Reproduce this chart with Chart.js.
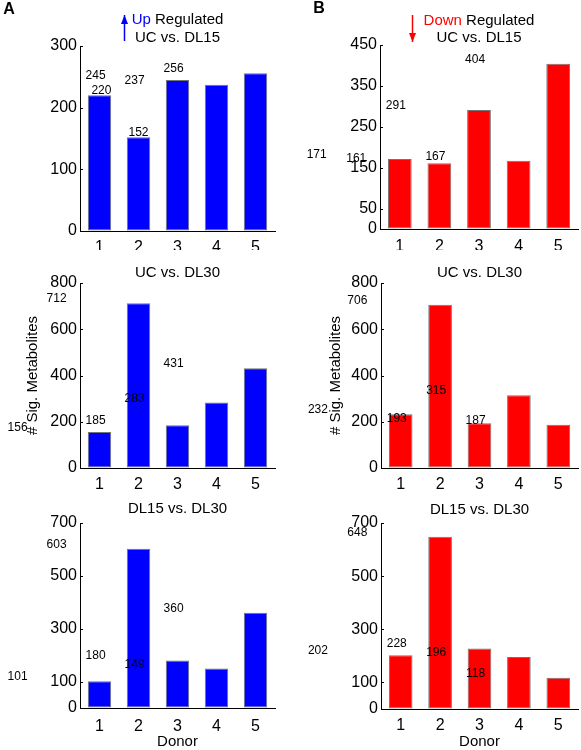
<!DOCTYPE html>
<html>
<head>
<meta charset="utf-8">
<script src="https://cdn.jsdelivr.net/npm/chart.js@4.4.0/dist/chart.umd.min.js"></script>
<style>
  html, body { margin: 0; padding: 0; background: #ffffff; }
  #wrap { position: relative; width: 581px; height: 750px; overflow: hidden; background: #fff; }
  #wrap canvas { position: absolute; }
</style>
</head>
<body>
<div id="wrap">
  <canvas id="a1" width="290" height="250" style="left:0px;top:0px"></canvas>
  <canvas id="b1" width="291" height="250" style="left:290px;top:0px"></canvas>
  <canvas id="a2" width="290" height="250" style="left:0px;top:250px"></canvas>
  <canvas id="b2" width="291" height="250" style="left:290px;top:250px"></canvas>
  <canvas id="a3" width="290" height="250" style="left:0px;top:500px"></canvas>
  <canvas id="b3" width="291" height="250" style="left:290px;top:500px"></canvas>
</div>
<script>
// ---------------- data ----------------
const donors = ['1', '2', '3', '4', '5'];

const upUCvsDL15   = [220, 152, 245, 237, 256];
const upUCvsDL30   = [156, 712, 185, 283, 431];
const upDL15vsDL30 = [101, 603, 180, 149, 360];

const downUCvsDL15   = [171, 161, 291, 167, 404];
const downUCvsDL30   = [232, 706, 193, 315, 187];
const downDL15vsDL30 = [202, 648, 228, 196, 118];

const ticksUpUCvsDL15   = [0, 100, 200, 300];
const ticksDownUCvsDL15 = [0, 50, 150, 250, 350, 450];
const ticksUCvsDL30     = [0, 200, 400, 600, 800];
const ticksDL15vsDL30   = [0, 100, 300, 500, 700];

// --------------- styling / layout ---------------
const FONT = "'Liberation Sans', Arial, Helvetica, sans-serif";
const BLUE = '#0000ff';
const RED = '#ff0000';

// where the value text of each bar sits along the donor axis (as in the original figure)
const valueTextSlotsFirst = [1.05, 2.0, 0.9, 1.9, 2.9];
const valueTextSlots = [-1.1, -0.1, 0.9, 1.9, 2.9];

const valueLabelPlugin = {
  id: 'valueLabels',
  afterDatasetsDraw(chart, args, o) {
    if (!o || !o.slots) return;
    const ctx = chart.ctx;
    const xs = chart.scales.x, ys = chart.scales.y;
    const p0 = xs.getPixelForValue(0), step = xs.getPixelForValue(1) - p0;
    const vals = chart.data.datasets[0].data;
    ctx.save();
    ctx.font = '12px ' + FONT;
    ctx.fillStyle = '#000';
    ctx.textAlign = 'center';
    ctx.textBaseline = 'alphabetic';
    vals.forEach((v, i) => {
      const x = p0 + (o.slots[i] - 1) * step;
      const y = ys.getPixelForValue(v) - 1;
      ctx.fillText(String(v), x, y);
    });
    ctx.restore();
  }
};

const panelTextPlugin = {
  id: 'panelText',
  afterDraw(chart, args, o) {
    const ctx = chart.ctx, ca = chart.chartArea;
    const cx = (ca.left + ca.right) / 2;
    ctx.save();
    // small inward y ticks
    const ys = chart.scales.y;
    ctx.strokeStyle = '#000';
    ctx.lineWidth = 1;
    ys.ticks.forEach(t => {
      const y = Math.round(ys.getPixelForValue(t.value)) + 0.5;
      ctx.beginPath(); ctx.moveTo(ca.left, y); ctx.lineTo(ca.left + 3, y); ctx.stroke();
    });
    ctx.textBaseline = 'middle';
    if (o.letter) {
      ctx.font = 'bold 16px ' + FONT;
      ctx.fillStyle = '#000';
      ctx.textAlign = 'center';
      ctx.fillText(o.letter.text, o.letter.x, o.letter.y);
    }
    ctx.font = '15px ' + FONT;
    if (o.rich) {
      const widths = o.rich.parts.map(p => ctx.measureText(p[0]).width);
      const total = widths.reduce((a, b) => a + b, 0);
      let x = cx - total / 2;
      const start = x;
      ctx.textAlign = 'left';
      o.rich.parts.forEach((p, i) => { ctx.fillStyle = p[1]; ctx.fillText(p[0], x, o.rich.y); x += widths[i]; });
      // arrow
      const ax = Math.round(start - o.rich.arrowGap) + 0.5;
      const col = o.rich.parts[0][1];
      ctx.strokeStyle = col; ctx.fillStyle = col; ctx.lineWidth = 1.5;
      const a = o.rich.arrow;
      ctx.beginPath(); ctx.moveTo(ax, a.from); ctx.lineTo(ax, a.to); ctx.stroke();
      const dir = a.to > a.from ? 1 : -1;
      ctx.beginPath();
      ctx.moveTo(ax, a.to);
      ctx.lineTo(ax - 3.5, a.to - dir * 9);
      ctx.lineTo(ax + 3.5, a.to - dir * 9);
      ctx.closePath(); ctx.fill();
    }
    ctx.fillStyle = '#000';
    ctx.textAlign = 'center';
    (o.lines || []).forEach(l => ctx.fillText(l.text, cx, l.y));
    if (o.xTitle) ctx.fillText(o.xTitle.text, cx, o.xTitle.y);
    if (o.yTitle) {
      ctx.save();
      ctx.translate(o.yTitle.x, (ca.top + ca.bottom) / 2);
      ctx.rotate(-Math.PI / 2);
      ctx.fillText(o.yTitle.text, 0, 0);
      ctx.restore();
    }
    ctx.restore();
  }
};

function makePanel(id, values, ticks, color, box, text, slots) {
  const canvas = document.getElementById(id);
  const W = canvas.width, H = canvas.height;
  return new Chart(canvas, {
    type: 'bar',
    data: {
      labels: donors,
      datasets: [{
        data: values,
        backgroundColor: color,
        borderColor: 'rgba(0,0,0,0.55)',
        borderWidth: 1,
        borderSkipped: false,
        categoryPercentage: 1.0,
        barPercentage: 0.6
      }]
    },
    options: {
      responsive: false,
      animation: false,
      devicePixelRatio: 1,
      layout: { padding: { left: 0, top: box.top, right: W - box.right, bottom: 0 } },
      plugins: {
        legend: { display: false },
        tooltip: { enabled: false },
        title: { display: false },
        valueLabels: { slots: slots },
        panelText: text
      },
      scales: {
        x: {
          type: 'category',
          offset: true,
          grid: { display: true, drawOnChartArea: false, drawTicks: false },
          border: { display: true, color: '#000', width: 1 },
          ticks: { color: '#000', font: { size: 16, family: FONT }, padding: box.xPad, maxRotation: 0, autoSkip: false },
          afterFit(s) { s.height = H - box.bottom; }
        },
        y: {
          type: 'linear',
          min: 0,
          max: ticks[ticks.length - 1],
          grid: { display: true, drawOnChartArea: false, drawTicks: false },
          border: { display: true, color: '#000', width: 1 },
          ticks: { color: '#000', font: { size: 16, family: FONT }, padding: 3 },
          afterBuildTicks(s) { s.ticks = ticks.map(v => ({ value: v })); },
          afterFit(s) { s.width = box.left; }
        }
      }
    },
    plugins: [valueLabelPlugin, panelTextPlugin]
  });
}

makePanel('a1', upUCvsDL15, ticksUpUCvsDL15, BLUE,
  { left: 80, right: 275, top: 46, bottom: 231, xPad: 7 },
  { letter: { text: 'A', x: 9, y: 10 },
    rich: { parts: [['Up', BLUE], [' Regulated', '#000']], y: 20, arrowGap: 8, arrow: { from: 41, to: 15 } },
    lines: [{ text: 'UC vs. DL15', y: 38 }] },
  valueTextSlotsFirst);

makePanel('b1', downUCvsDL15, ticksDownUCvsDL15, RED,
  { left: 90, right: 288, top: 45, bottom: 229, xPad: 8 },
  { letter: { text: 'B', x: 29, y: 9 },
    rich: { parts: [['Down', RED], [' Regulated', '#000']], y: 21, arrowGap: 12, arrow: { from: 15, to: 42 } },
    lines: [{ text: 'UC vs. DL15', y: 38 }] },
  valueTextSlots);

makePanel('a2', upUCvsDL30, ticksUCvsDL30, BLUE,
  { left: 80, right: 275, top: 33, bottom: 218, xPad: 7 },
  { lines: [{ text: 'UC vs. DL30', y: 23 }], yTitle: { text: '# Sig. Metabolites', x: 33 } },
  valueTextSlots);

makePanel('b2', downUCvsDL30, ticksUCvsDL30, RED,
  { left: 91, right: 288, top: 33, bottom: 218, xPad: 7 },
  { lines: [{ text: 'UC vs. DL30', y: 23 }], yTitle: { text: '# Sig. Metabolites', x: 46 } },
  valueTextSlots);

makePanel('a3', upDL15vsDL30, ticksDL15vsDL30, BLUE,
  { left: 80, right: 275, top: 23, bottom: 208, xPad: 9 },
  { lines: [{ text: 'DL15 vs. DL30', y: 9 }], xTitle: { text: 'Donor', y: 242 } },
  valueTextSlots);

makePanel('b3', downDL15vsDL30, ticksDL15vsDL30, RED,
  { left: 91, right: 288, top: 23, bottom: 209, xPad: 7 },
  { lines: [{ text: 'DL15 vs. DL30', y: 10 }], xTitle: { text: 'Donor', y: 242 } },
  valueTextSlots);
</script>
</body>
</html>
